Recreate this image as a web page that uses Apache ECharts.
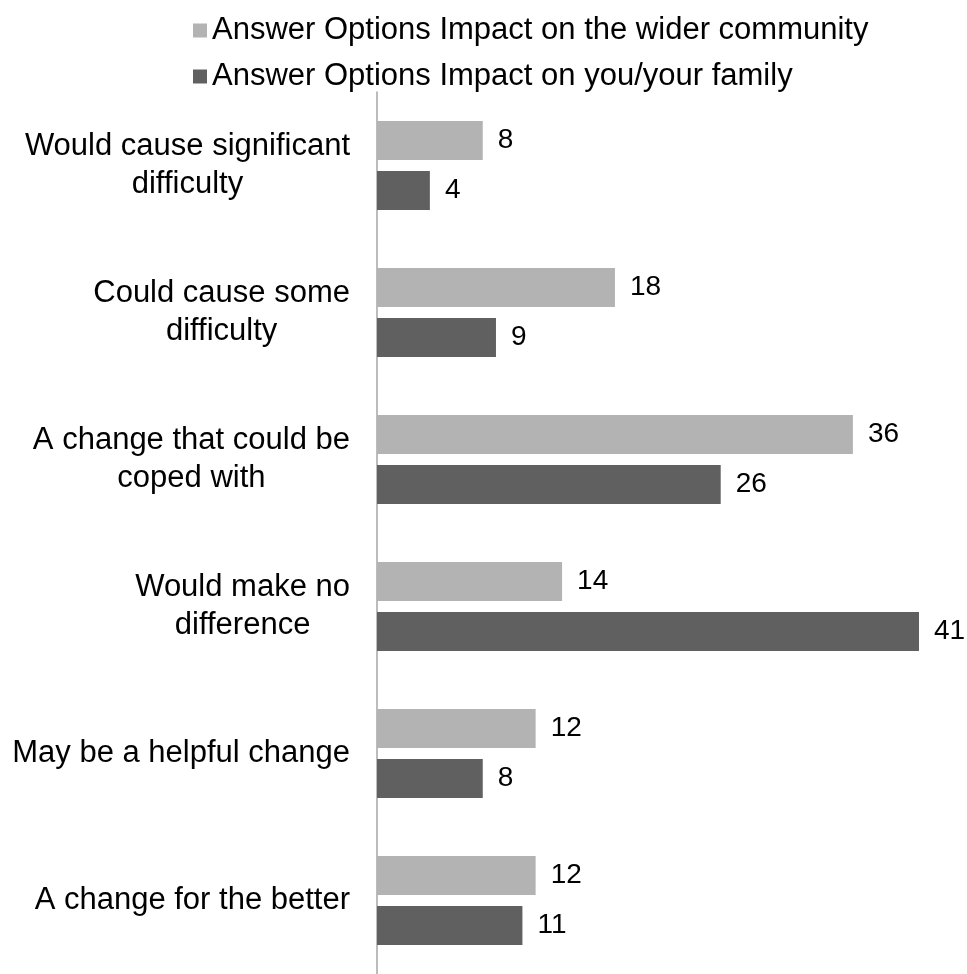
<!DOCTYPE html>
<html>
<head>
<meta charset="utf-8">
<script src="https://cdn.jsdelivr.net/npm/echarts@6/dist/echarts.min.js"></script>
<style>
  html, body { margin: 0; padding: 0; background: #fff; }
  #chart { width: 967px; height: 974px; }
</style>
</head>
<body>
<div id="chart"></div>
<script>
const categories = [
  'Would cause significant\ndifficulty',
  'Could cause some\ndifficulty',
  'A change that could be\ncoped with',
  'Would make no\ndifference',
  'May be a helpful change',
  'A change for the better'
]
const seriesNames = [
  'Answer Options Impact on the wider community',
  'Answer Options Impact on you/your family'
]
const widerCommunity = [8, 18, 36, 14, 12, 12]
const yourFamily = [4, 9, 26, 41, 8, 11]

const FONT = 'Liberation Sans, Arial, sans-serif'
const COLORS = ['#b3b3b3', '#606060']

const chart = echarts.init(document.getElementById('chart'))

const labelStyle = {
  show: true,
  position: 'right',
  distance: 15,
  color: '#000',
  fontFamily: FONT,
  fontSize: 28
}

chart.setOption({
  animation: false,
  legend: {
    orient: 'vertical',
    left: 188,
    top: 10,
    itemWidth: 14,
    itemHeight: 14,
    itemGap: 15,
    icon: 'rect',
    textStyle: { color: '#000', fontFamily: FONT, fontSize: 31 },
    data: seriesNames
  },
  grid: { left: 377, top: 92, width: 542, height: 891 },
  xAxis: {
    type: 'value',
    min: 0,
    max: 41,
    show: false
  },
  yAxis: {
    type: 'category',
    inverse: true,
    data: categories,
    axisLine: { show: true, lineStyle: { color: '#a6a6a6', width: 1.5 } },
    axisTick: { show: false },
    axisLabel: {
      margin: 27,
      color: '#000',
      fontFamily: FONT,
      fontSize: 31,
      lineHeight: 38,
      formatter: (v) => v.split('\n').map(l => '{c|' + l + '}').join('\n'),
      rich: {
        c: { align: 'center', fontFamily: FONT, fontSize: 31, lineHeight: 38, color: '#000' }
      }
    }
  },
  series: [
    {
      name: seriesNames[0],
      type: 'bar',
      data: widerCommunity,
      barWidth: 39,
      barGap: '28%',
      itemStyle: { color: COLORS[0] },
      label: labelStyle
    },
    {
      name: seriesNames[1],
      type: 'bar',
      data: yourFamily,
      barWidth: 39,
      barGap: '28%',
      itemStyle: { color: COLORS[1] },
      label: labelStyle
    }
  ]
})
</script>
</body>
</html>
